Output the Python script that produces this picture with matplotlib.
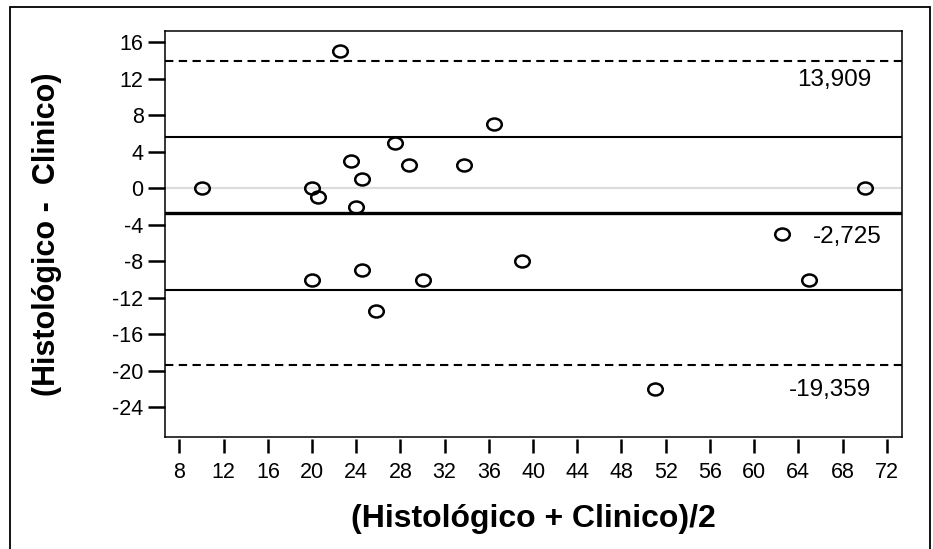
import matplotlib
matplotlib.use("Agg")
import matplotlib.pyplot as plt
import numpy as np
from matplotlib.path import Path
from matplotlib.patches import Rectangle

plt.rcParams['font.family'] = ['Liberation Sans', 'DejaVu Sans']
plt.rcParams['axes.unicode_minus'] = False

# data
media = [10, 20, 20.5, 22.5, 23.5, 24, 24.5, 27.5, 28.75, 33.75, 36.5, 70,
         20, 24.5, 25.75, 30, 39, 62.5, 65, 51]
diferencia = [0, 0, -1, 15, 3, -2, 1, 5, 2.5, 2.5, 7, 0,
              -10, -9, -13.5, -10, -8, -5, -10, -22]
media_dif = -2.725
limites = [13.909, -19.359]
lineas_sd = [5.6, -11.15]
etiquetas = ["13,909", "-2,725", "-19,359"]
etiq_y = [11.9, -5.35, -22.1]
etiq_x = [70.6, 71.5, 70.6]

xticks = list(range(8, 73, 4))
yticks = list(range(-24, 17, 4))

fig = plt.figure(figsize=(9.33, 5.49), dpi=100)
ax = fig.add_axes([0.1769, 0.2035, 0.7896, 0.7406])

# outer frame (bottom edge sits off the page)
fig.patches.append(Rectangle((10/933, -0.01), 920/933, 1 - 6.5/549 + 0.01,
                             transform=fig.transFigure, fill=False,
                             lw=1.3, ec='black'))

ax.axhline(0, color='#dcdcdc', lw=1.6, zorder=1)
for v in limites:
    ax.axhline(v, color='black', lw=1.5, ls=(0, (4, 2.6)), zorder=2)
for v in lineas_sd:
    ax.axhline(v, color='black', lw=1.5, zorder=2)
ax.axhline(media_dif, color='black', lw=2.4, zorder=2)

# slightly flattened open circle
circ = Path.unit_circle()
elipse = Path(circ.vertices * np.array([1.0, 0.82]), circ.codes)
ax.plot(media, diferencia, ls='none', marker=elipse, ms=10.5,
        mfc='none', mec='black', mew=1.8, zorder=3)

for t, xx, yy in zip(etiquetas, etiq_x, etiq_y):
    ax.text(xx, yy, t, ha='right', va='center', fontsize=17.5)

ax.set_xlim(6.7, 73.36)
ax.set_ylim(-27.29, 17.27)
ax.set_xticks(xticks)
ax.set_yticks(yticks)

for s in ax.spines.values():
    s.set_linewidth(1.1)
ax.spines['bottom'].set_position(('outward', 1.5))
ax.spines['bottom'].set_visible(False)
ax.plot([0, 1], [0, 0], transform=ax.transAxes, color='black', lw=1.1,
        clip_on=False, zorder=5)

ax.tick_params(axis='x', length=10, width=1.8, pad=6, labelsize=15.5)
ax.tick_params(axis='y', length=12, width=1.8, pad=3.5, labelsize=15.5)

ax.set_xlabel("(Histológico + Clinico)/2", fontsize=23, fontweight='bold')
ax.set_ylabel("(Histológico -  Clinico)", fontsize=22, fontweight='bold')
ax.xaxis.set_label_coords(0.5, -0.165)
ax.xaxis.label.set_va('top')
ax.yaxis.set_label_coords(-0.14, 0.5)

fig.savefig("out.png", dpi=100)
